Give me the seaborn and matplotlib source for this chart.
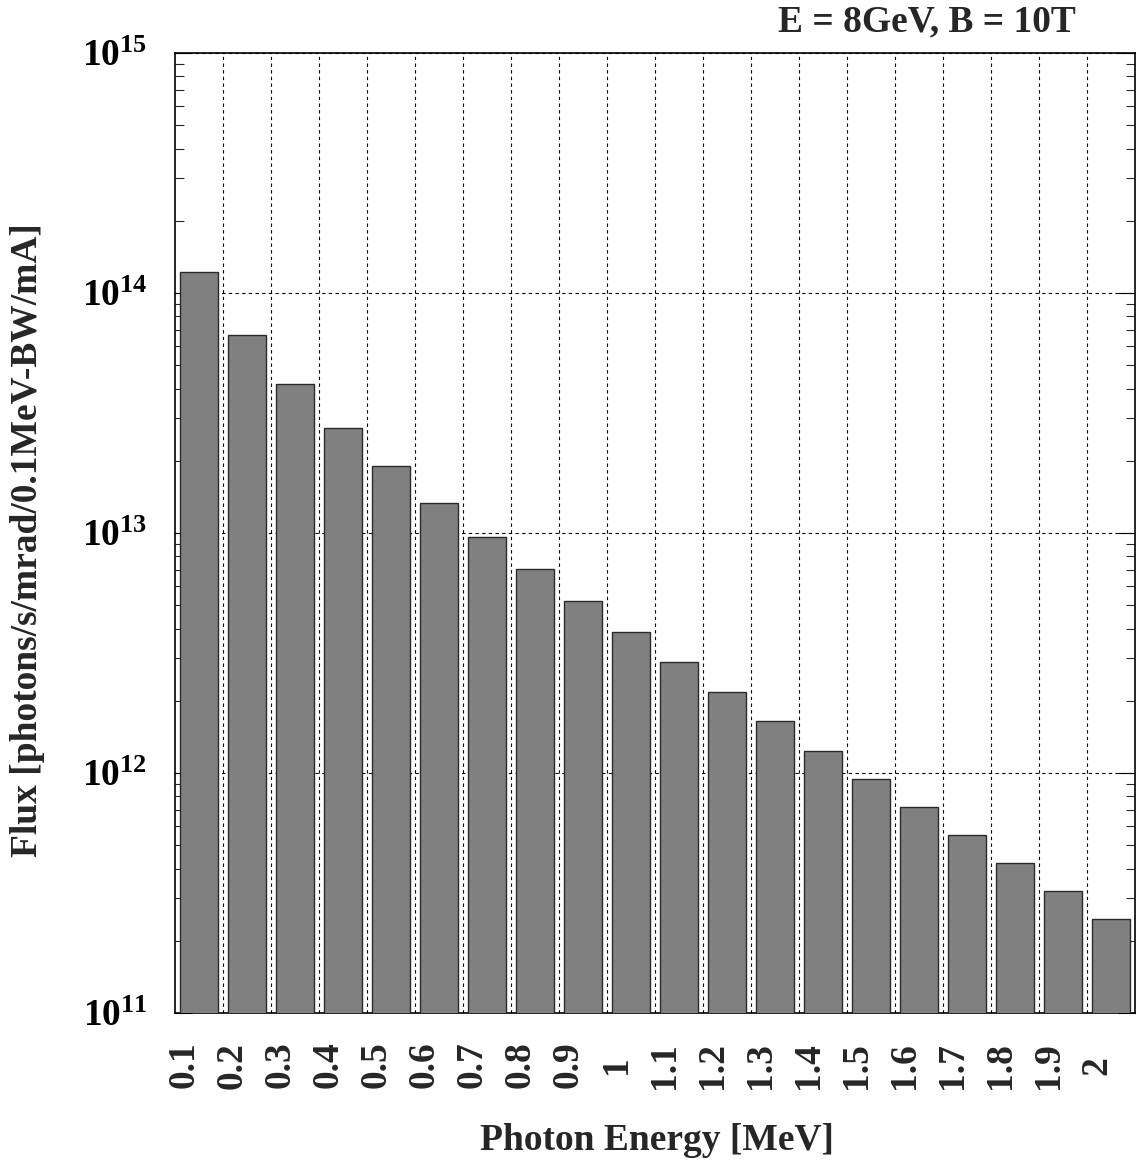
import numpy as np
import pandas as pd
import matplotlib
matplotlib.use("Agg")
import matplotlib.pyplot as plt
import matplotlib.transforms as mtransforms
import seaborn as sns

energy_labels = ["0.1", "0.2", "0.3", "0.4", "0.5", "0.6", "0.7", "0.8", "0.9", "1",
                 "1.1", "1.2", "1.3", "1.4", "1.5", "1.6", "1.7", "1.8", "1.9", "2"]
flux_values = [1.227e14, 6.66e13, 4.17e13, 2.75e13, 1.90e13, 1.337e13, 9.66e12, 7.06e12,
               5.19e12, 3.86e12, 2.89e12, 2.17e12, 1.64e12, 1.24e12, 9.41e11, 7.19e11,
               5.50e11, 4.20e11, 3.21e11, 2.47e11]
ytick_values = [1e11, 1e12, 1e13, 1e14, 1e15]
ytick_labels = [r"$10^{11}$", r"$10^{12}$", r"$10^{13}$", r"$10^{14}$", r"$10^{15}$"]
title_text = "E = 8GeV, B = 10T"
xlabel_text = "Photon Energy [MeV]"
ylabel_text = "Flux [photons/s/mrad/0.1MeV-BW/mA]"

sns.set_theme(style="white")
plt.rcParams["font.family"] = ["Liberation Serif", "DejaVu Serif"]
plt.rcParams["font.weight"] = "bold"
plt.rcParams["mathtext.fontset"] = "custom"
plt.rcParams["mathtext.rm"] = "Liberation Serif:bold"
plt.rcParams["mathtext.bf"] = "Liberation Serif:bold"
plt.rcParams["mathtext.it"] = "Liberation Serif:bold"
plt.rcParams["mathtext.default"] = "bf"

df = pd.DataFrame({"energy": energy_labels, "flux": flux_values})

W, H = 1136, 1162
fig = plt.figure(figsize=(W / 100, H / 100), dpi=100)
ax = fig.add_axes([175 / W, 1 - 1013 / H, 960 / W, 960 / H])

sns.barplot(data=df, x="energy", y="flux", color="#808080", saturation=1,
            edgecolor="#2a2a2a", linewidth=1.0, width=0.81, ax=ax, zorder=3)

ax.set_yscale("log")
ax.set_ylim(1e11, 1e15)
ax.set_xlim(-0.5, len(energy_labels) - 0.5)

ax.set_yticks(ytick_values)
ax.set_yticklabels(ytick_labels, fontsize=27)
ax.set_xticks(range(len(energy_labels)))
ax.set_xticklabels(energy_labels, fontsize=27, fontweight="bold", rotation=90,
                   rotation_mode="anchor", ha="center", va="baseline")
ax.set_xticks(np.arange(0.5, len(energy_labels) - 1, 1.0), minor=True)

ax.tick_params(axis="x", which="both", length=0, pad=37.5)
ax.tick_params(axis="y", which="major", direction="in", length=12, width=0.8,
               left=True, right=True, pad=20, colors="black")
ax.tick_params(axis="y", which="minor", direction="in", length=6.5, width=0.8,
               left=True, right=True)

ax.set_axisbelow(True)
ax.grid(False)
ax.grid(True, which="minor", axis="x", color="black", linestyle=(0, (3, 3)), linewidth=0.8)
ax.grid(True, which="major", axis="y", color="black", linestyle=(0, (3, 3)), linewidth=0.8)

for s in ax.spines.values():
    s.set_visible(True)
    s.set_color("black")
    s.set_linewidth(1.2)

ax.set_xlabel("")
ax.set_ylabel("")
fig.text(28 / W, 1 - 540 / H, ylabel_text, rotation=90, ha="center", va="center",
         fontsize=27, fontweight="bold")
fig.text(657 / W, 1 - 1140 / H, xlabel_text, ha="center", va="center",
         fontsize=27, fontweight="bold")
fig.text(1076 / W, 1 - 22 / H, title_text, ha="right", va="center",
         fontsize=27, fontweight="bold")

shift = mtransforms.ScaledTranslation(-5 / 100, 0, fig.dpi_scale_trans)
for lab in ax.get_xticklabels():
    lab.set_transform(lab.get_transform() + shift)

fig.savefig("out.png", dpi=100, facecolor="white")
